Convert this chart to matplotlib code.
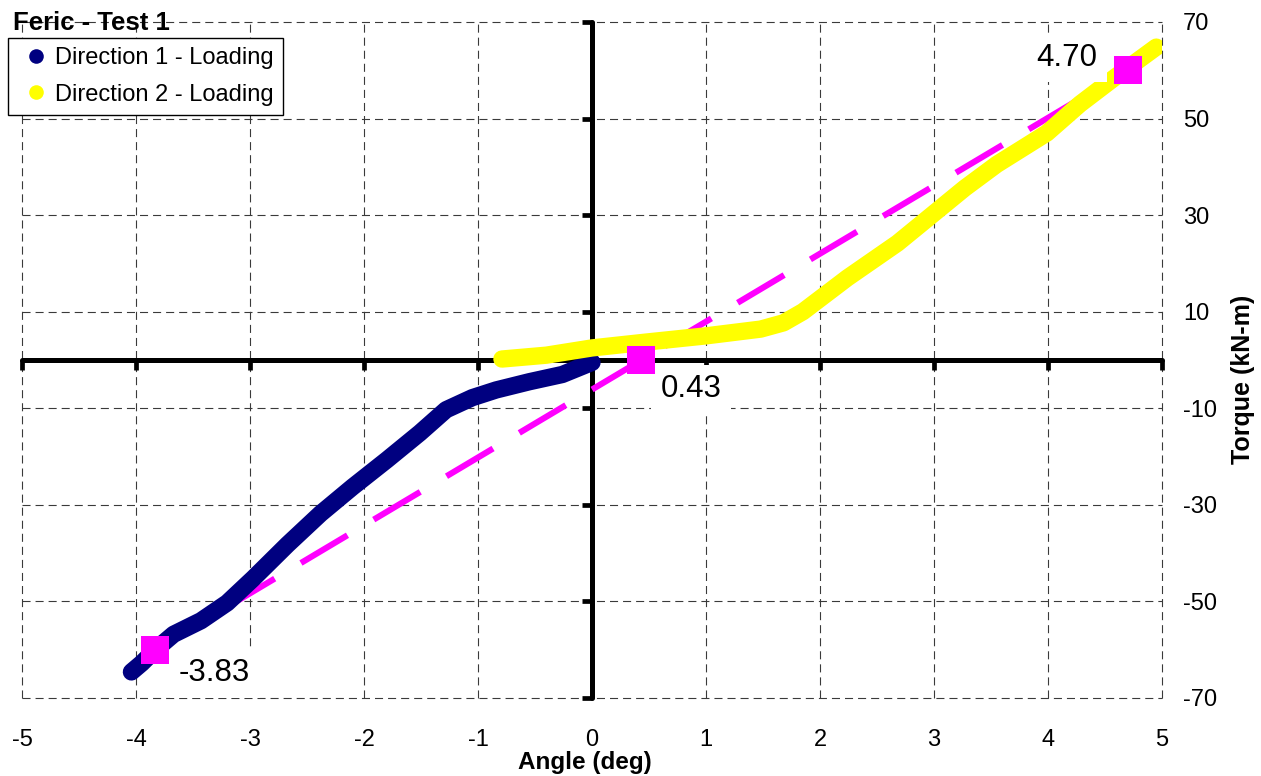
import numpy as np
import matplotlib
matplotlib.use("Agg")
import matplotlib.pyplot as plt
from matplotlib.lines import Line2D

plt.rcParams['font.family'] = ['Liberation Sans', 'DejaVu Sans']
plt.rcParams['lines.scale_dashes'] = False
plt.rcParams['axes.unicode_minus'] = False

# ---- data ----
dir1_angle = [-4.04, -3.95, -3.83, -3.67, -3.43, -3.2, -2.97, -2.67, -2.38, -2.10,
              -1.80, -1.51, -1.28, -1.05, -0.84, -0.55, -0.26, 0.0]
dir1_torque = [-64.6, -62.8, -60.0, -56.8, -54.0, -50.3, -45.2, -38.2, -31.8, -26.3,
               -20.7, -15.1, -10.3, -7.8, -6.2, -4.5, -3.0, -0.5]

dir2_angle = [-0.79, -0.4, 0.0, 0.47, 1.0, 1.48, 1.68, 1.85, 2.24, 2.68, 2.97,
              3.27, 3.55, 3.99, 4.28, 4.58, 4.95]
dir2_torque = [0.2, 1.0, 2.5, 3.7, 5.0, 6.4, 7.7, 10.0, 17.0, 24.2, 29.8,
               35.6, 40.5, 47.0, 53.0, 58.4, 64.8]

key_angle = [-3.83, 0.43, 4.70]
key_torque = [-60, 0, 60]
key_labels = ["-3.83", "0.43", "4.70"]

x_ticks = list(range(-5, 6))
y_ticks = list(range(-70, 71, 20))

series_names = ["Direction 1 - Loading", "Direction 2 - Loading"]
title = "Feric - Test 1"
x_title = "Angle (deg)"
y_title = "Torque (kN-m)"

NAVY = "#000080"
YELLOW = "#FFFF00"
MAGENTA = "#FF00FF"

W, H = 1261, 776
fig = plt.figure(figsize=(W / 100, H / 100), dpi=100)
ax = fig.add_axes([22 / W, 1 - 698 / H, 1140 / W, 676 / H])
ax.set_xlim(-5, 5)
ax.set_ylim(-70, 70)
ax.set_xticks(x_ticks)
ax.set_yticks(y_ticks)

# dashed grid (drawn unclipped so the edge lines show fully)
grid_kw = dict(color="#3a3a3a", linewidth=0.8, linestyle=(0, (5.8, 3.6)),
               zorder=0.5, clip_on=False)
for xv in x_ticks:
    ax.axvline(xv, **grid_kw)
for yv in y_ticks:
    ax.axhline(yv, **grid_kw)

# bold axes through zero
for side in ("top", "right"):
    ax.spines[side].set_visible(False)
ax.spines["bottom"].set_position(("data", 0))
ax.spines["left"].set_position(("data", 0))
for side in ("bottom", "left"):
    ax.spines[side].set_linewidth(3.6)
    ax.spines[side].set_color("black")
    ax.spines[side].set_capstyle("round")
ax.tick_params(axis="both", direction="out", length=7, width=3.4, color="black",
               labelbottom=False, labelleft=False)

# tick labels at bottom / right
sx = ax.secondary_xaxis("bottom")
sx.set_xticks(x_ticks)
sx.spines["bottom"].set_visible(False)
sx.tick_params(length=0, pad=22, labelsize=17)
sy = ax.secondary_yaxis("right")
sy.set_yticks(y_ticks)
sy.spines["right"].set_visible(False)
sy.tick_params(length=0, pad=15, labelsize=17)

# trend line through key points
ax.plot([key_angle[0], key_angle[-1]], [key_torque[0], key_torque[-1]],
        color=MAGENTA, linewidth=4.4, linestyle=(0, (39, 22)),
        dash_capstyle="butt", zorder=3)

# data series (dense markers -> thick band)
ax.plot(dir1_angle, dir1_torque, color=NAVY, linewidth=12.5,
        solid_capstyle="round", solid_joinstyle="round", zorder=4)
ax.plot(dir2_angle, dir2_torque, color=YELLOW, linewidth=12.5,
        solid_capstyle="round", solid_joinstyle="round", zorder=4)

# key points
ax.plot(key_angle, key_torque, linestyle="none", marker="s", markersize=20,
        color=MAGENTA, markeredgewidth=0, zorder=6)

offsets = [(17, -17), (14, -21), (-22, 9)]
aligns = [("left", "center"), ("left", "center"), ("right", "center")]
for xv, yv, lab, off, (ha, va) in zip(key_angle, key_torque, key_labels, offsets, aligns):
    ax.annotate(lab, (xv, yv), xytext=off, textcoords="offset points",
                ha=ha, va=va, fontsize=22.5, color="black", zorder=5,
                bbox=dict(boxstyle="square,pad=0.3", facecolor="white",
                          edgecolor="none"))

# legend
handles = [Line2D([], [], linestyle="none", marker="o", markersize=10.5,
                  color=NAVY, markeredgewidth=0),
           Line2D([], [], linestyle="none", marker="o", markersize=10.5,
                  color=YELLOW, markeredgewidth=0)]
leg = fig.legend(handles, series_names, loc="upper left",
                 bbox_to_anchor=(8 / W, 1 - 38 / H), bbox_transform=fig.transFigure,
                 fontsize=17, frameon=True, fancybox=False, edgecolor="black",
                 framealpha=1, borderpad=0.4, handlelength=1.6,
                 handletextpad=0.0, labelspacing=0.6, borderaxespad=0)
leg.get_frame().set_linewidth(1.0)
leg.set_zorder(10)

# titles
fig.text(13 / W, 1 - 30 / H, title, fontsize=18.5, fontweight="bold",
         ha="left", va="baseline")
fig.text(585 / W, 1 - 769 / H, x_title, fontsize=17.5, fontweight="bold",
         ha="center", va="baseline")
fig.text(1243 / W, 1 - 379 / H, y_title, fontsize=18, fontweight="bold",
         ha="center", va="center", rotation=90)

fig.savefig("out.png", dpi=100)
